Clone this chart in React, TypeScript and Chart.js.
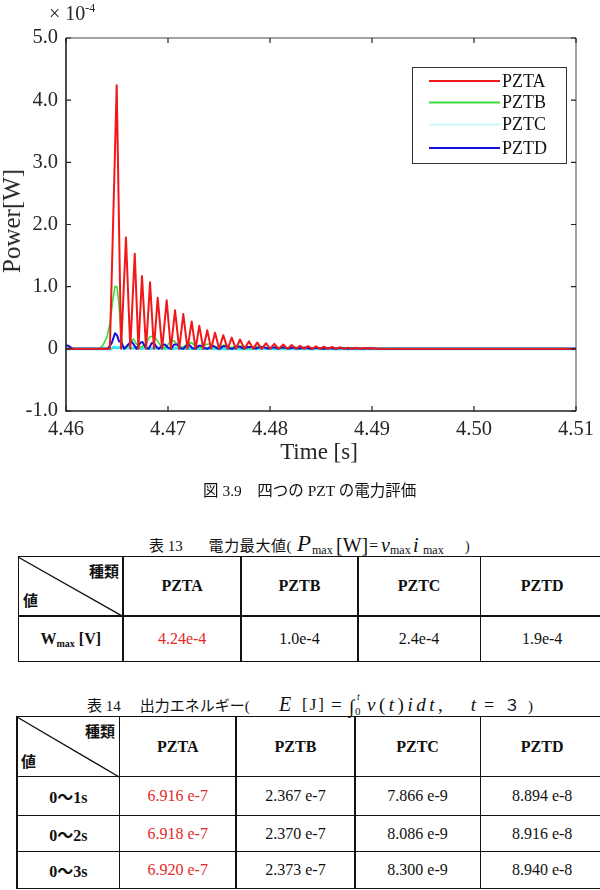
import React, { useEffect, useRef } from 'react';
import { Chart, registerables } from 'chart.js';

Chart.register(...registerables);

// Axis ticks (time in s, power in units of 1e-4 W)
const xTicks = [4.46, 4.47, 4.48, 4.49, 4.5, 4.51];
const yTicks = [-1, 0, 1, 2, 3, 4, 5];

const seriesNames = ['PZTA', 'PZTB', 'PZTC', 'PZTD'];

// PZTA power trace (x 1e-4 W)
const pztaTime = [
  4.46, 4.4643, 4.46497, 4.4654,
  4.46588, 4.4663, 4.46674, 4.4671, 4.46745, 4.46785, 4.46824, 4.46862,
  4.46899, 4.46943, 4.46987, 4.47028, 4.47069, 4.4711, 4.4715, 4.47191,
  4.47232, 4.4727, 4.47307, 4.47346, 4.47385, 4.47423, 4.47461, 4.47502,
  4.47542, 4.47584, 4.47625, 4.47666, 4.47706, 4.4775, 4.47794, 4.47835,
  4.47875, 4.47918, 4.47961, 4.48002, 4.48042, 4.48086, 4.4813, 4.48172,
  4.48213, 4.48254, 4.48294, 4.48334, 4.48373, 4.48412, 4.48451, 4.4849,
  4.48529, 4.48568, 4.48608, 4.48647, 4.48686, 4.48726, 4.48765, 4.48804,
  4.48843, 4.48882, 4.48922, 4.48961, 4.49, 4.4904,
  4.51,
];
const pztaPower = [
  0, 0, 4.24, 0,
  1.79, 0, 1.53, 0, 1.17, 0, 1.07, 0,
  0.82, 0, 0.78, 0, 0.62, 0, 0.56, 0,
  0.44, 0, 0.37, 0, 0.3, 0, 0.26, 0,
  0.22, 0, 0.18, 0, 0.15, 0, 0.12, 0,
  0.1, 0, 0.09, 0, 0.08, 0, 0.07, 0,
  0.06, 0, 0.05, 0, 0.045, 0, 0.04, 0,
  0.035, 0, 0.03, 0, 0.025, 0, 0.02, 0,
  0.018, 0, 0.015, 0, 0.012, 0,
  0,
];

// PZTB power trace (x 1e-4 W)
const pztbTime = [
  4.46, 4.4632, 4.4636, 4.464, 4.4643, 4.4646, 4.4648, 4.465, 4.4652, 4.4654,
  4.4656, 4.4659, 4.4663, 4.4666, 4.4669, 4.4673, 4.4678, 4.4682, 4.4686, 4.469,
  4.4694, 4.4698, 4.4702, 4.4706, 4.471, 4.4714, 4.4719, 4.4723, 4.4727, 4.4732,
  4.4737, 4.4741, 4.4746, 4.4752, 4.4757, 4.4762, 4.4768, 4.4773, 4.4778, 4.4785,
  4.479, 4.4796, 4.4805, 4.4812, 4.4822, 4.483, 4.484, 4.485, 4.486, 4.487,
  4.488, 4.489, 4.4905, 4.4915, 4.4921, 4.4926, 4.51,
];
const pztbPower = [
  0, 0, 0.05, 0.18, 0.4, 0.8, 1.0, 1.0, 0.7, 0.2,
  0.03, 0.02, 0.1, 0.16, 0.08, 0.02, 0.08, 0.19, 0.21, 0.12,
  0.03, 0.02, 0.12, 0.13, 0.05, 0.02, 0.08, 0.1, 0.04, 0.02,
  0.07, 0.08, 0.02, 0.05, 0.06, 0.02, 0.04, 0.05, 0.01, 0.03,
  0.04, 0.01, 0.03, 0.01, 0.025, 0.005, 0.02, 0.005, 0.015, 0.005,
  0.012, 0.003, 0.01, 0, 0.01, 0, 0,
];

// PZTC power trace (x 1e-4 W)
const pztcTime = [
  4.46, 4.4644, 4.4647, 4.465, 4.4654, 4.4658, 4.4662, 4.4666, 4.467, 4.4674,
  4.4678, 4.4683, 4.4688, 4.4693, 4.4698, 4.4704, 4.471, 4.4716, 4.4722, 4.473,
  4.474, 4.475, 4.476, 4.4775, 4.479, 4.481, 4.483, 4.485, 4.51,
];
const pztcPower = [
  0, 0, 0.025, 0.015, 0.025, 0.008, 0.022, 0.008, 0.02, 0.006,
  0.018, 0.005, 0.016, 0.005, 0.015, 0.004, 0.012, 0.004, 0.01, 0.004,
  0.008, 0.003, 0.006, 0.003, 0.005, 0.002, 0.003, 0, 0,
];

// PZTD power trace (x 1e-4 W)
const pztdTime = [
  4.46, 4.4602, 4.4605, 4.4607, 4.4641, 4.4645, 4.4648, 4.465, 4.4652, 4.4654,
  4.4657, 4.4661, 4.4664, 4.4666, 4.4669, 4.4673, 4.4675, 4.4678, 4.4681, 4.4684,
  4.4686, 4.4689, 4.4691, 4.4695, 4.4697, 4.47, 4.4703, 4.4706, 4.4709, 4.4712,
  4.4715, 4.4718, 4.4721, 4.4724, 4.4727, 4.473, 4.4733, 4.4736, 4.4739, 4.4742,
  4.4745, 4.4748, 4.4751, 4.4754, 4.4757, 4.476, 4.4763, 4.4767, 4.477, 4.4774,
  4.4778, 4.4782, 4.4786, 4.479, 4.4794, 4.4798, 4.4803, 4.4808, 4.4813, 4.4818,
  4.4823, 4.4828, 4.4834, 4.484, 4.4846, 4.4852, 4.4858, 4.4864, 4.487, 4.4876,
  4.4882, 4.489, 4.4898, 4.4905, 4.51,
];
const pztdPower = [
  0.06, 0.05, 0.02, 0, 0, 0.1, 0.25, 0.22, 0.12, 0.11,
  0, 0.07, 0.12, 0.08, 0, 0.1, 0.11, 0.02, 0, 0.09,
  0.1, 0.02, 0, 0.06, 0.07, 0.02, 0, 0.07, 0.07, 0.01,
  0, 0.05, 0.06, 0.01, 0, 0.05, 0.05, 0.01, 0, 0.04,
  0.045, 0.01, 0, 0.04, 0.04, 0.01, 0, 0.035, 0.035, 0.005,
  0.03, 0.03, 0.005, 0.028, 0.028, 0.005, 0.025, 0.005, 0.025, 0.005,
  0.02, 0.005, 0.02, 0.003, 0.018, 0.003, 0.015, 0.002, 0.012, 0.002,
  0.01, 0.001, 0.008, 0, 0,
];

// Table contents
const tableColumns = ['PZTA', 'PZTB', 'PZTC', 'PZTD'];
const maxPowerValues = ['4.24e-4', '1.0e-4', '2.4e-4', '1.9e-4'];
const energyPeriods = ['0〜1s', '0〜2s', '0〜3s'];
const energy1s = ['6.916 e-7', '2.367 e-7', '7.866 e-9', '8.894 e-8'];
const energy2s = ['6.918 e-7', '2.370 e-7', '8.086 e-9', '8.916 e-8'];
const energy3s = ['6.920 e-7', '2.373 e-7', '8.300 e-9', '8.940 e-8'];

const serif = "'Liberation Serif', 'Noto Sans CJK JP', serif";
const cjk = "'Noto Sans CJK JP', sans-serif";
const ink = '#111';
const axisInk = '#262626';
const highlight = '#e42a2a';

const lineColors = ['#f01818', '#3cdc3c', '#35e6f0', '#1414d8'];
const legendColors = ['#f01818', '#3cdc3c', '#cdf7f7', '#1414d8'];

const toPoints = (t: number[], p: number[]) => t.map((x, i) => ({ x, y: p[i] }));

// Box frame with inward tick marks on all four sides
const frameTicks = {
  id: 'frameTicks',
  afterDatasetsDraw(chart: any) {
    const { ctx, chartArea: a, scales } = chart;
    const len = 5;
    ctx.save();
    ctx.strokeStyle = '#444';
    ctx.lineWidth = 1;
    ctx.beginPath();
    ctx.moveTo(a.left, a.top);
    ctx.lineTo(a.right, a.top);
    ctx.lineTo(a.right, a.bottom);
    ctx.stroke();
    ctx.strokeStyle = '#222';
    ctx.lineWidth = 1.6;
    ctx.beginPath();
    ctx.moveTo(a.left, a.top);
    ctx.lineTo(a.left, a.bottom);
    ctx.lineTo(a.right, a.bottom);
    ctx.stroke();
    ctx.lineWidth = 1.2;
    ctx.beginPath();
    scales.x.ticks.forEach((t: any) => {
      const px = scales.x.getPixelForValue(t.value);
      ctx.moveTo(px, a.bottom);
      ctx.lineTo(px, a.bottom - len);
      ctx.moveTo(px, a.top);
      ctx.lineTo(px, a.top + len);
    });
    scales.y.ticks.forEach((t: any) => {
      const py = scales.y.getPixelForValue(t.value);
      ctx.moveTo(a.left, py);
      ctx.lineTo(a.left + len, py);
      ctx.moveTo(a.right, py);
      ctx.lineTo(a.right - len, py);
    });
    ctx.stroke();
    ctx.restore();
  },
};

// Boxed legend inside the plot, upper right
const boxLegend = {
  id: 'boxLegend',
  afterDraw(chart: any) {
    const { ctx } = chart;
    const bx = 412, by = 67, bw = 154, bh = 96;
    const rows = [81, 102.5, 124.5, 148];
    ctx.save();
    ctx.fillStyle = '#fff';
    ctx.fillRect(bx, by, bw, bh);
    ctx.strokeStyle = '#333';
    ctx.lineWidth = 1;
    ctx.strokeRect(bx + 0.5, by + 0.5, bw, bh);
    ctx.font = `18px ${serif}`;
    ctx.textBaseline = 'middle';
    ctx.textAlign = 'left';
    chart.data.datasets.forEach((ds: any, i: number) => {
      ctx.strokeStyle = legendColors[i];
      ctx.lineWidth = 2;
      ctx.beginPath();
      ctx.moveTo(429, rows[i]);
      ctx.lineTo(500, rows[i]);
      ctx.stroke();
      ctx.fillStyle = ink;
      ctx.fillText(ds.label, 502, rows[i] + 1);
    });
    ctx.restore();
  },
};

function PowerChart() {
  const ref = useRef<HTMLCanvasElement>(null);
  useEffect(() => {
    const tickFont = { family: serif, size: 20.5 };
    const chart = new Chart(ref.current as HTMLCanvasElement, {
      type: 'line',
      data: {
        datasets: [
          { label: seriesNames[0], data: toPoints(pztaTime, pztaPower), borderColor: lineColors[0], borderWidth: 2, order: 0 },
          { label: seriesNames[1], data: toPoints(pztbTime, pztbPower), borderColor: lineColors[1], borderWidth: 1.6, order: 2 },
          { label: seriesNames[2], data: toPoints(pztcTime, pztcPower), borderColor: lineColors[2], borderWidth: 3, order: 3 },
          { label: seriesNames[3], data: toPoints(pztdTime, pztdPower), borderColor: lineColors[3], borderWidth: 2, order: 1 },
        ].map((d) => ({ ...d, pointRadius: 0, tension: 0, fill: false, borderJoinStyle: 'round' as const })),
      },
      options: {
        responsive: false,
        animation: false,
        events: [],
        layout: { padding: { top: 38, right: 24, left: 0, bottom: 0 } },
        plugins: { legend: { display: false }, tooltip: { enabled: false } },
        scales: {
          x: {
            type: 'linear',
            min: xTicks[0],
            max: xTicks[xTicks.length - 1],
            afterBuildTicks: (s: any) => { s.ticks = xTicks.map((v) => ({ value: v })); },
            afterFit: (s: any) => { s.height = 59; },
            grid: { display: false, drawTicks: false },
            border: { display: false },
            ticks: { padding: 6, font: tickFont, color: axisInk, maxRotation: 0, autoSkip: false, callback: (v: any) => Number(v).toFixed(2) },
          },
          y: {
            type: 'linear',
            min: yTicks[0],
            max: yTicks[yTicks.length - 1],
            afterBuildTicks: (s: any) => { s.ticks = yTicks.map((v) => ({ value: v })); },
            afterFit: (s: any) => { s.width = 66; },
            grid: { display: false, drawTicks: false },
            border: { display: false },
            ticks: { padding: 8, font: tickFont, color: axisInk, autoSkip: false, callback: (v: any) => (Number(v) === 0 ? '0' : Number(v).toFixed(1)) },
          },
        },
      },
      plugins: [frameTicks, boxLegend],
    } as any);
    return () => chart.destroy();
  }, []);
  return <canvas ref={ref} width={600} height={470} style={{ position: 'absolute', left: 0, top: 0, width: 600, height: 470 }} />;
}

// Text placed by its left edge and baseline
function T({ x, base, size, italic, bold, color, spacing, children }: any) {
  return (
    <span
      style={{
        position: 'absolute', left: x, top: base - 15 - 0.3375 * size, lineHeight: '30px', fontSize: size,
        fontFamily: serif, fontStyle: italic ? 'italic' : 'normal', fontWeight: bold ? 700 : 400,
        letterSpacing: spacing || 0, whiteSpace: 'nowrap', color: color || ink,
      }}
    >
      {children}
    </span>
  );
}

function GridTable({ xs, ys, cells, cornerTop, cornerBottom }: any) {
  const x0 = xs[0], x1 = xs[xs.length - 1], y0 = ys[0], y1 = ys[ys.length - 1];
  const lw = 1.6;
  return (
    <>
      {ys.map((y: number, i: number) => (
        <div key={'h' + i} style={{ position: 'absolute', left: x0 - lw / 2, top: y - lw / 2, width: x1 - x0 + lw, height: lw, background: ink }} />
      ))}
      {xs.map((x: number, i: number) => (
        <div key={'v' + i} style={{ position: 'absolute', left: x - lw / 2, top: y0 - lw / 2, width: lw, height: y1 - y0 + lw, background: ink }} />
      ))}
      <svg style={{ position: 'absolute', left: xs[0], top: ys[0], overflow: 'visible' }} width={xs[1] - xs[0]} height={ys[1] - ys[0]}>
        <line x1={0} y1={0} x2={xs[1] - xs[0]} y2={ys[1] - ys[0]} stroke={ink} strokeWidth={1.4} />
      </svg>
      <div style={{ position: 'absolute', left: cornerTop[0], top: cornerTop[1], fontFamily: cjk, fontWeight: 700, fontSize: 15, lineHeight: '18px' }}>種類</div>
      <div style={{ position: 'absolute', left: cornerBottom[0], top: cornerBottom[1], fontFamily: cjk, fontWeight: 700, fontSize: 15, lineHeight: '18px' }}>値</div>
      {cells.map((row: any[], r: number) =>
        row.map((c: any, k: number) =>
          r === 0 && k === 0 ? null : (
            <div
              key={r + '-' + k}
              style={{
                position: 'absolute', left: xs[k], top: ys[r], width: xs[k + 1] - xs[k], height: ys[r + 1] - ys[r],
                display: 'flex', alignItems: 'center', justifyContent: 'center', whiteSpace: 'nowrap',
              }}
            >
              {c}
            </div>
          )
        )
      )}
    </>
  );
}

const headerCell = (s: string) => <span style={{ fontFamily: serif, fontWeight: 700, fontSize: 16 }}>{s}</span>;
const valueCell = (s: string, i: number) => (
  <span style={{ fontFamily: serif, fontSize: 16, color: i === 0 ? highlight : ink }}>{s}</span>
);
const periodCell = (s: string) => <span style={{ fontFamily: serif, fontWeight: 700, fontSize: 16 }}>{s}</span>;

export default function App() {
  const energyRows = [energy1s, energy2s, energy3s];
  const b13 = 551.5;
  const b14 = 711;
  return (
    <div style={{ position: 'absolute', left: 0, top: 0, width: 600, height: 890, overflow: 'hidden', background: '#fff', color: ink, fontFamily: serif }}>
      <PowerChart />

      {/* exponent marker */}
      <div style={{ position: 'absolute', left: 49, top: 0, fontSize: 20, lineHeight: '26px', color: axisInk, whiteSpace: 'nowrap' }}>
        × 10<span style={{ fontSize: 12, position: 'relative', top: -8 }}>-4</span>
      </div>
      {/* axis titles */}
      <div style={{ position: 'absolute', left: 12, top: 221, transform: 'translate(-50%, -50%) rotate(-90deg)', fontSize: 25, lineHeight: '28px', whiteSpace: 'nowrap', color: axisInk }}>
        Power[W]
      </div>
      <div style={{ position: 'absolute', left: 319, top: 452, transform: 'translate(-50%, -50%)', fontSize: 23, whiteSpace: 'nowrap', color: axisInk }}>
        Time [s]
      </div>

      {/* figure caption */}
      <T x={203} base={496.5} size={15.5}>図 3.9　四つの PZT の電力評価</T>

      {/* table 13 title */}
      <T x={149} base={b13} size={15}>表 13</T>
      <T x={208.6} base={b13} size={15} spacing={0.6}>電力最大値(</T>
      <T x={297} base={b13} size={23} italic>P</T>
      <T x={312} base={b13 + 3} size={12}>max</T>
      <T x={336} base={b13} size={20}>[W]</T>
      <T x={369} base={b13} size={16}>=</T>
      <T x={381} base={b13} size={20} italic>v</T>
      <T x={390} base={b13 + 3} size={12}>max</T>
      <T x={413} base={b13} size={20} italic>i</T>
      <T x={423} base={b13 + 3} size={12}>max</T>
      <T x={465} base={b13} size={14}>)</T>

      <GridTable
        xs={[18.4, 123.2, 241.1, 357.8, 480.3, 604]}
        ys={[556.7, 616, 661.7]}
        cornerTop={[89, 562]}
        cornerBottom={[23, 591]}
        cells={[
          [null, ...tableColumns.map(headerCell)],
          [
            <span style={{ fontFamily: serif, fontWeight: 700, fontSize: 16 }}>
              W<span style={{ fontSize: 10, position: 'relative', top: 3 }}>max</span> [V]
            </span>,
            ...maxPowerValues.map(valueCell),
          ],
        ]}
      />

      {/* table 14 title */}
      <T x={87} base={b14} size={15}>表 14</T>
      <T x={139.7} base={b14} size={15}>出力エネルギー(</T>
      <T x={279} base={b14} size={20} italic>E</T>
      <T x={302} base={b14} size={17} spacing={2}>[J]</T>
      <T x={331} base={b14} size={19}>=</T>
      <T x={349} base={b14 + 2} size={19}>∫</T>
      <T x={357} base={b14 - 11} size={10} italic>t</T>
      <T x={355} base={b14 + 4} size={11}>0</T>
      <T x={367} base={b14} size={19} spacing={3.5}>
        <i>v</i>(<i>t</i>)<i>idt</i>,
      </T>
      <T x={470.7} base={b14} size={19} italic>t</T>
      <T x={484} base={b14} size={18}>=</T>
      <T x={504} base={b14} size={16}>３</T>
      <T x={528} base={b14} size={15}>)</T>

      <GridTable
        xs={[17.2, 119.4, 236.1, 354.8, 480.3, 604]}
        ys={[716.7, 776.7, 815.7, 851.7, 888.3]}
        cornerTop={[85, 722]}
        cornerBottom={[21, 752]}
        cells={[
          [null, ...tableColumns.map(headerCell)],
          ...energyRows.map((row, r) => [periodCell(energyPeriods[r]), ...row.map(valueCell)]),
        ]}
      />
    </div>
  );
}
